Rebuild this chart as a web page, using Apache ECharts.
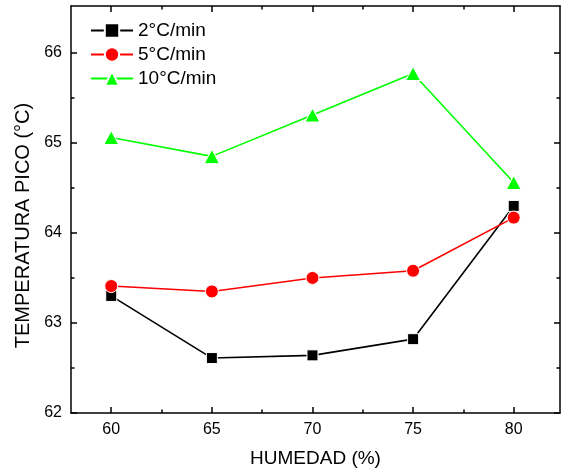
<!DOCTYPE html>
<html>
<head>
<meta charset="utf-8">
<script src="https://cdn.jsdelivr.net/npm/echarts@6/dist/echarts.min.js"></script>
<style>
html,body{margin:0;padding:0;background:#fff;}
#chart{width:562px;height:474px;}
</style>
</head>
<body>
<div id="chart"></div>
<script>
// Data
const humidity = [60, 65, 70, 75, 80];
const rate2 = [63.30, 62.61, 62.64, 62.82, 64.30];
const rate5 = [63.41, 63.35, 63.50, 63.58, 64.17];
const rate10 = [65.06, 64.85, 65.31, 65.77, 64.56];
const seriesNames = ['2°C/min', '5°C/min', '10°C/min'];
const xMajorTicks = [60, 65, 70, 75, 80];
const xMinorTicks = [62.5, 67.5, 72.5, 77.5];
const yMajorTicks = [62, 63, 64, 65, 66];
const yMinorTicks = [62.5, 63.5, 64.5, 65.5];

const FONT = 'Liberation Sans, Arial, sans-serif';
const X_MIN = 58, X_MAX = 82.3, Y_MIN = 62, Y_MAX = 66.52;

function pairs(vals) { return humidity.map((h, i) => [h, vals[i]]); }

function xAxisDef(pos, ticks, len, showLine, showLabel, extra) {
  return Object.assign({
    type: 'value', position: pos, min: X_MIN, max: X_MAX,
    splitLine: { show: false },
    axisLine: { show: showLine, onZero: false, lineStyle: { color: '#000', width: 1.5 } },
    axisTick: { show: true, inside: true, length: len, customValues: ticks, lineStyle: { color: '#000', width: 1.5 } },
    axisLabel: showLabel ? { show: true, customValues: ticks, color: '#000', fontSize: 16, fontFamily: FONT, margin: 9 } : { show: false }
  }, extra || {});
}
function yAxisDef(pos, ticks, len, showLine, showLabel, extra) {
  return Object.assign({
    type: 'value', position: pos, min: Y_MIN, max: Y_MAX,
    splitLine: { show: false },
    axisLine: { show: showLine, onZero: false, lineStyle: { color: '#000', width: 1.5 } },
    axisTick: { show: true, inside: true, length: len, customValues: ticks, lineStyle: { color: '#000', width: 1.5 } },
    axisLabel: showLabel ? { show: true, customValues: ticks, color: '#000', fontSize: 16, fontFamily: FONT, margin: 9 } : { show: false }
  }, extra || {});
}

const chart = echarts.init(document.getElementById('chart'), null, { renderer: 'canvas' });
chart.setOption({
  animation: false,
  backgroundColor: '#fff',
  grid: { left: 71, right: 2, top: 6, bottom: 61, containLabel: false, outerBoundsMode: 'none' },
  legend: {
    orient: 'vertical', left: 90, top: 21, padding: 0,
    itemWidth: 42, itemHeight: 18, itemGap: 5,
    textStyle: { color: '#000', fontSize: 19, fontFamily: FONT },
    data: seriesNames
  },
  xAxis: [
    xAxisDef('bottom', xMajorTicks, 6, true, true, {
      name: 'HUMEDAD (%)', nameLocation: 'middle', nameGap: 36,
      nameTextStyle: { color: '#000', fontSize: 19, fontFamily: FONT }
    }),
    xAxisDef('bottom', xMinorTicks, 3.5, false, false),
    xAxisDef('top', xMajorTicks, 6, true, false),
    xAxisDef('top', xMinorTicks, 3.5, false, false)
  ],
  yAxis: [
    yAxisDef('left', yMajorTicks, 6, true, true, {
      name: 'TEMPERATURA PICO (°C)', nameLocation: 'middle', nameGap: 32,
      nameTextStyle: { color: '#000', fontSize: 20, fontFamily: FONT, padding: [0, 32, 0, 0] }
    }),
    yAxisDef('left', yMinorTicks, 3.5, false, false),
    yAxisDef('right', yMajorTicks, 6, true, false),
    yAxisDef('right', yMinorTicks, 3.5, false, false)
  ],
  series: [
    {
      name: seriesNames[0], type: 'line', xAxisIndex: 0, yAxisIndex: 0,
      data: pairs(rate2), symbol: 'rect', symbolSize: 11,
      lineStyle: { color: '#000', width: 1.6 },
      itemStyle: { color: '#000', borderColor: '#fff', borderWidth: 1 }
    },
    {
      name: seriesNames[1], type: 'line', xAxisIndex: 0, yAxisIndex: 0,
      data: pairs(rate5), symbol: 'circle', symbolSize: 13,
      lineStyle: { color: '#ff0000', width: 1.6 },
      itemStyle: { color: '#ff0000', borderColor: '#fff', borderWidth: 1 }
    },
    {
      name: seriesNames[2], type: 'line', xAxisIndex: 0, yAxisIndex: 0,
      data: pairs(rate10), symbol: 'triangle', symbolSize: [15, 14],
      lineStyle: { color: '#00ff00', width: 1.6 },
      itemStyle: { color: '#00ff00', borderColor: '#fff', borderWidth: 1 }
    }
  ]
});
</script>
</body>
</html>
